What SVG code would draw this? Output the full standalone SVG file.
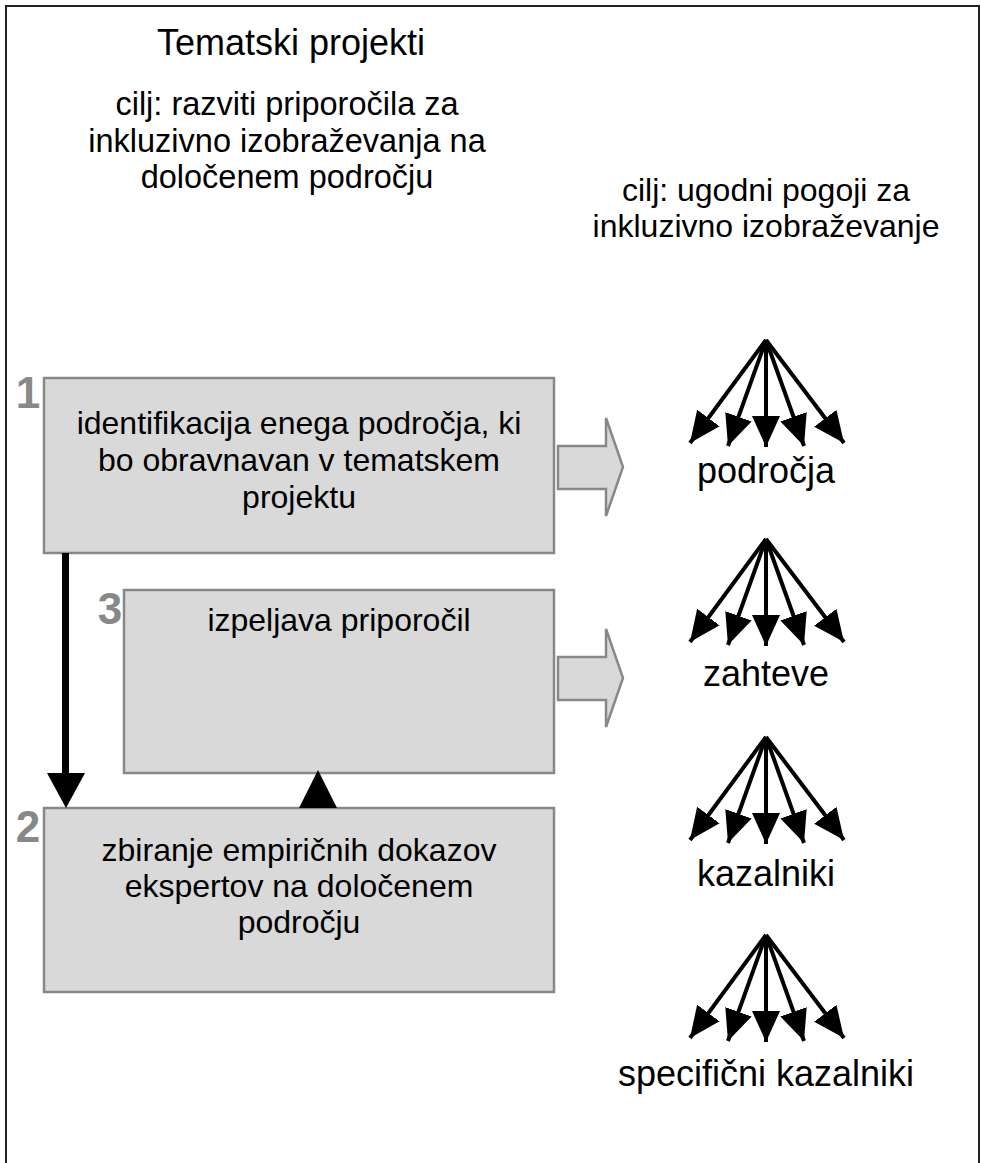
<svg xmlns="http://www.w3.org/2000/svg" width="981" height="1163" viewBox="0 0 981 1163">
<defs>
<style>
text{font-family:"Liberation Sans",Arial,sans-serif;fill:#000;}
.t{font-size:36px;text-anchor:middle;}
.s{font-size:32px;text-anchor:middle;}
.n{font-size:44px;font-weight:bold;fill:#888;text-anchor:middle;}
.box{fill:#d9d9d9;stroke:#888;stroke-width:2.5;}
.garrow{fill:#d9d9d9;stroke:#888;stroke-width:2.5;stroke-linejoin:miter;}
.fan line{stroke:#000;stroke-width:4;marker-end:url(#ah);}
</style>
<marker id="ah" markerUnits="userSpaceOnUse" markerWidth="34" markerHeight="32" refX="31" refY="14" orient="auto">
<path d="M0,0 L31,14 L0,28 Z" fill="#000"/>
</marker>
</defs>
<rect x="0" y="0" width="981" height="1163" fill="#fff"/>
<rect x="6" y="6" width="973" height="1200" fill="none" stroke="#222" stroke-width="2"/>

<g id="title">
<text class="t" x="291" y="55">Tematski projekti</text>
<text class="s" x="287" y="115" style="font-size:32.5px">cilj: razviti priporočila za</text>
<text class="s" x="287" y="152" style="font-size:32.5px">inkluzivno izobraževanja na</text>
<text class="s" x="287" y="188" style="font-size:32.5px">določenem področju</text>
</g>
<g id="goal">
<text class="s" x="766" y="201">cilj: ugodni pogoji za</text>
<text class="s" x="766" y="237">inkluzivno izobraževanje</text>
</g>

<g id="box1">
<rect class="box" x="44" y="378" width="510" height="175"/>
<text class="n" x="28" y="408">1</text>
<text class="s" x="299" y="434">identifikacija enega področja, ki</text>
<text class="s" x="299" y="471">bo obravnavan v tematskem</text>
<text class="s" x="299" y="508">projektu</text>
</g>
<g id="box3">
<rect class="box" x="124" y="590" width="430" height="183"/>
<text class="n" x="110" y="624">3</text>
<text class="s" x="339" y="631">izpeljava priporočil</text>
</g>
<g id="box2">
<rect class="box" x="44" y="808" width="510" height="184"/>
<text class="n" x="28" y="842">2</text>
<text class="s" x="299" y="861">zbiranje empiričnih dokazov</text>
<text class="s" x="299" y="897">ekspertov na določenem</text>
<text class="s" x="299" y="933">področju</text>
</g>

<g id="connectors">
<rect x="62" y="553" width="7" height="222" fill="#000"/>
<polygon points="47,773 85,773 66,808" fill="#000"/>
<polygon points="299,808 337,808 318,770" fill="#000"/>
<polygon class="garrow" points="558,446 606,446 606,418 623,467 606,516 606,489 558,489"/>
<polygon class="garrow" points="558,657 606,657 606,629 623,678 606,727 606,700 558,700"/>
</g>

<g id="fan1" class="fan">
<line x1="766" y1="340" x2="690" y2="443"/>
<line x1="766" y1="340" x2="728" y2="446"/>
<line x1="766" y1="340" x2="766" y2="447"/>
<line x1="766" y1="340" x2="804" y2="446"/>
<line x1="766" y1="340" x2="844" y2="443"/>
<text class="t" x="766" y="483">področja</text>
</g>
<g id="fan2" class="fan">
<line x1="766" y1="539" x2="690" y2="642"/>
<line x1="766" y1="539" x2="728" y2="645"/>
<line x1="766" y1="539" x2="766" y2="646"/>
<line x1="766" y1="539" x2="804" y2="645"/>
<line x1="766" y1="539" x2="844" y2="642"/>
<text class="t" x="766" y="686">zahteve</text>
</g>
<g id="fan3" class="fan">
<line x1="766" y1="737" x2="690" y2="840"/>
<line x1="766" y1="737" x2="728" y2="843"/>
<line x1="766" y1="737" x2="766" y2="844"/>
<line x1="766" y1="737" x2="804" y2="843"/>
<line x1="766" y1="737" x2="844" y2="840"/>
<text class="t" x="766" y="886">kazalniki</text>
</g>
<g id="fan4" class="fan">
<line x1="766" y1="935" x2="690" y2="1038"/>
<line x1="766" y1="935" x2="728" y2="1041"/>
<line x1="766" y1="935" x2="766" y2="1042"/>
<line x1="766" y1="935" x2="804" y2="1041"/>
<line x1="766" y1="935" x2="844" y2="1038"/>
<text class="t" x="766" y="1086">specifični kazalniki</text>
</g>
</svg>
